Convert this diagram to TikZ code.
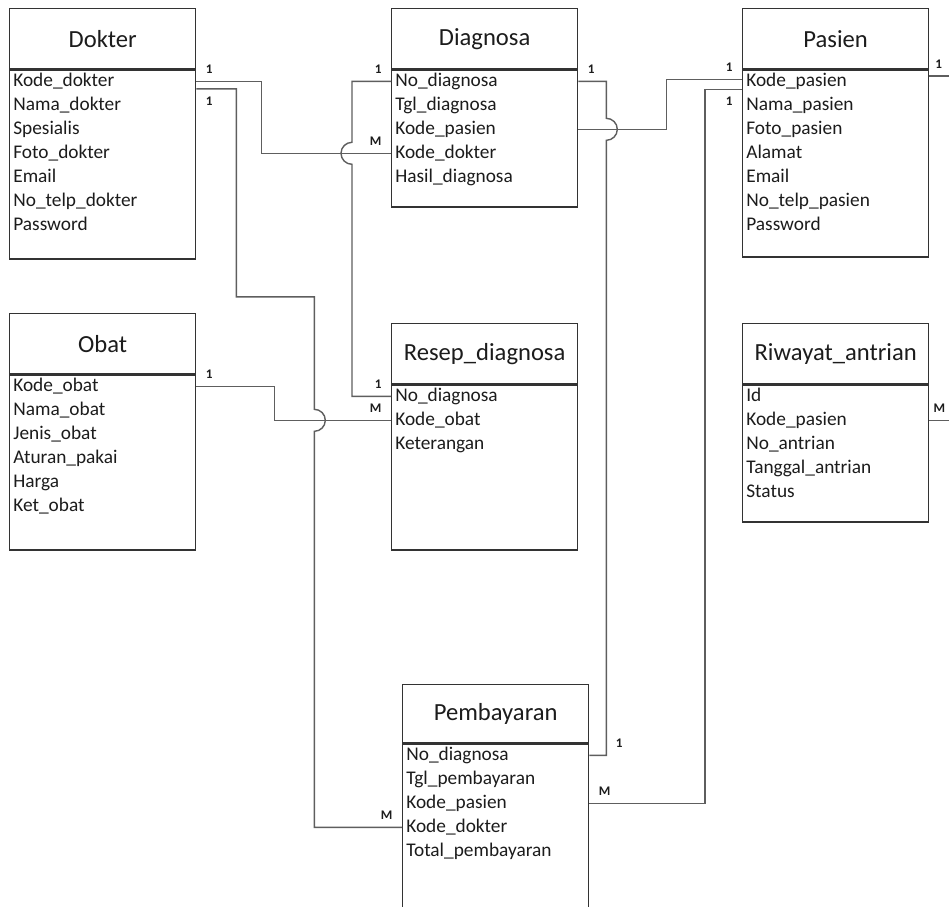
\documentclass[tikz,border=0pt]{standalone}
\usepackage{fontspec}
\setmainfont{Carlito}
\usepackage{tikz}
\usetikzlibrary{positioning, calc}
\definecolor{Frame}{HTML}{333333}
\definecolor{Wire}{HTML}{5E5E5E}
\definecolor{Ink}{HTML}{1C1C1C}

\begin{document}
\begin{tikzpicture}[
  entity/.style={draw=Frame, line width=0.75pt, fill=white, anchor=north west, minimum width=3.72cm, minimum height=1.2cm, inner sep=0pt, text=Ink, font=\fontsize{14}{16}\selectfont},
  fields/.style={draw=Frame, line width=0.75pt, fill=white, minimum width=3.72cm, inner sep=0pt},
  attr/.style={anchor=west, inner xsep=0.08cm, inner ysep=0pt, text height=7.5pt, text depth=2pt, text=Ink, font=\fontsize{11}{13}\selectfont},
  link/.style={draw=Wire, line width=0.8pt},
  card/.style={font=\fontsize{7.5}{8}\selectfont\bfseries, text=Ink, inner xsep=5pt, inner ysep=4pt}
]
\path[use as bounding box, clip] (0,0) rectangle (18.98,-18.14);

% entities
\node[entity] (dokter) at (0.18,-0.16) {Dokter};
\node[fields, minimum height=3.78cm, below=0pt of dokter] (dokterbody) {};
\node[entity] (diagnosa) at (7.82,-0.16) {Diagnosa};
\node[fields, minimum height=2.74cm, below=0pt of diagnosa] (diagbody) {};
\node[entity] (pasien) at (14.84,-0.16) {Pasien};
\node[fields, minimum height=3.74cm, below=0pt of pasien] (pasienbody) {};
\node[entity] (obat) at (0.18,-6.26) {Obat};
\node[fields, minimum height=3.5cm, below=0pt of obat] (obatbody) {};
\node[entity] (resep) at (7.82,-6.46) {Resep\_diagnosa};
\node[fields, minimum height=3.3cm, below=0pt of resep] (resepbody) {};
\node[entity] (riwayat) at (14.84,-6.46) {Riwayat\_antrian};
\node[fields, minimum height=2.74cm, below=0pt of riwayat] (riwayatbody) {};
\node[entity, minimum height=1.16cm] (bayar) at (8.04,-13.68) {Pembayaran};
\node[fields, minimum height=3.8cm, below=0pt of bayar] (bayarbody) {};

% attributes
\foreach \f [count=\i] in {Kode\_dokter, Nama\_dokter, Spesialis, Foto\_dokter, Email, No\_telp\_dokter, Password}
  \node[attr] (dk\i) at ($(dokterbody.north west)+(0,{-0.24-0.48*(\i-1)})$) {\f};
\foreach \f [count=\i] in {No\_diagnosa, Tgl\_diagnosa, Kode\_pasien, Kode\_dokter, Hasil\_diagnosa}
  \node[attr] (dg\i) at ($(diagbody.north west)+(0,{-0.24-0.48*(\i-1)})$) {\f};
\foreach \f [count=\i] in {Kode\_pasien, Nama\_pasien, Foto\_pasien, Alamat, Email, No\_telp\_pasien, Password}
  \node[attr] (ps\i) at ($(pasienbody.north west)+(0,{-0.24-0.48*(\i-1)})$) {\f};
\foreach \f [count=\i] in {Kode\_obat, Nama\_obat, Jenis\_obat, Aturan\_pakai, Harga, Ket\_obat}
  \node[attr] (ob\i) at ($(obatbody.north west)+(0,{-0.24-0.48*(\i-1)})$) {\f};
\foreach \f [count=\i] in {No\_diagnosa, Kode\_obat, Keterangan}
  \node[attr] (rs\i) at ($(resepbody.north west)+(0,{-0.24-0.48*(\i-1)})$) {\f};
\foreach \f [count=\i] in {Id, Kode\_pasien, No\_antrian, Tanggal\_antrian, Status}
  \node[attr] (rw\i) at ($(riwayatbody.north west)+(0,{-0.24-0.48*(\i-1)})$) {\f};
\foreach \f [count=\i] in {No\_diagnosa, Tgl\_pembayaran, Kode\_pasien, Kode\_dokter, Total\_pembayaran}
  \node[attr] (pb\i) at ($(bayarbody.north west)+(0,{-0.24-0.48*(\i-1)})$) {\f};

% relations
\draw[link] (dokterbody.east |- dk1) node[card, above right] {1} -- ++(1.3,0) |- (diagbody.west |- dg4) node[card, above left] {M};
\draw[link] ($(dokterbody.east |- dk1)+(0,-0.15)$) node[card, below right] {1} -- ++(0.8,0) -- ++(0,-4.16) -- ++(1.56,0) coordinate (hopA)
  -- ($(hopA |- rs2)+(0,0.22)$) arc[start angle=90, end angle=-90, radius=0.22] |- (bayarbody.west |- pb4) node[card, above left] {M};
\draw[link] (obatbody.east |- ob1) node[card, above right] {1} -- ++(1.56,0) |- (resepbody.west |- rs2) node[card, above left] {M};
\draw[link] (diagbody.west |- dg1) node[card, above left] {1} -- ++(-0.78,0) coordinate (hopB)
  -- ($(hopB |- dg4)+(0,0.22)$) arc[start angle=90, end angle=270, radius=0.22] |- (resepbody.west |- rs1) node[card, above left] {1};
\draw[link] (diagbody.east |- dg1) node[card, above right] {1} -- ++(0.56,0) coordinate (hopC)
  -- ($(hopC |- dg3)+(0,0.22)$) arc[start angle=90, end angle=-90, radius=0.22] -- (hopC |- pb1) node[card, above right] {1} -- (bayarbody.east |- pb1);
\draw[link] (diagbody.east |- dg3) -- ++(1.76,0) |- ($(pasienbody.west |- ps1)+(0,0.04)$) node[card, above left] {1};
\draw[link] ($(pasienbody.west |- ps1)+(0,-0.16)$) node[card, below left] {1} -- ++(-0.74,0) |- (bayarbody.east |- pb3) node[card, above right] {M};

% lines leaving the page
\coordinate (edgeP) at (18.98,-1.52);
\coordinate (edgeR) at (18.98,0);
\draw[link] (pasienbody.east |- edgeP) node[card, above right, inner xsep=3pt] {1} -- (edgeP);
\draw[link] (riwayatbody.east |- rw2) node[card, above right, inner xsep=2pt] {M} -- (edgeR |- rw2);
\end{tikzpicture}
\end{document}
